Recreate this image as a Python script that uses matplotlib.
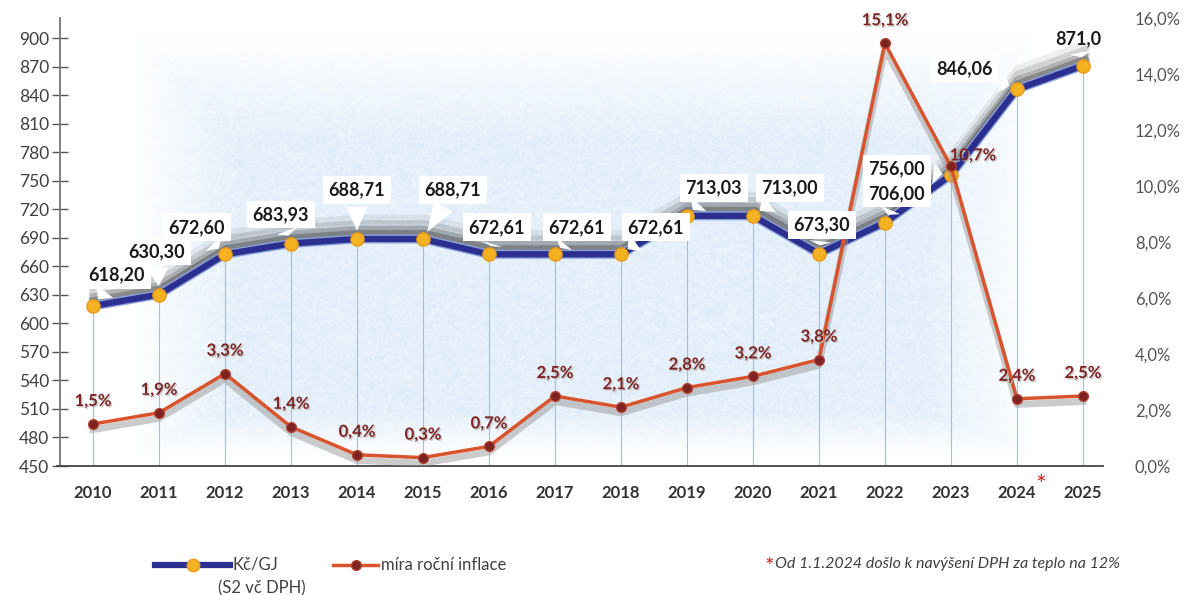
import numpy as np
import matplotlib.pyplot as plt
from matplotlib.lines import Line2D
import matplotlib.patheffects as pe

plt.rcParams["font.family"] = ["Lato", "DejaVu Sans"]

years = ["2010", "2011", "2012", "2013", "2014", "2015", "2016", "2017",
         "2018", "2019", "2020", "2021", "2022", "2023", "2024", "2025"]
price = [618.20, 630.30, 672.60, 683.93, 688.71, 688.71, 672.61, 672.61,
         672.61, 713.03, 713.00, 673.30, 706.00, 756.00, 846.06, 871.0]
price_labels = ["618,20", "630,30", "672,60", "683,93", "688,71", "688,71",
                "672,61", "672,61", "672,61", "713,03", "713,00", "673,30",
                "706,00", "756,00", "846,06", "871,0"]
inflation = [1.5, 1.9, 3.3, 1.4, 0.4, 0.3, 0.7, 2.5,
             2.1, 2.8, 3.2, 3.8, 15.1, 10.7, 2.4, 2.5]
left_ticks = list(range(450, 901, 30))
right_ticks = [0, 2, 4, 6, 8, 10, 12, 14, 16]

BLUE = "#2b2f8f"
YELLOW = "#f4b223"
RED = "#d9532c"
DARK_RED = "#7d2422"
GREY_TEXT = "#404040"

x = np.arange(len(years))

fig = plt.figure(figsize=(11.88, 5.95), dpi=100)
ax = fig.add_axes([0.0505, 0.2168, 0.8838, 0.7529])
ax2 = ax.twinx()
ax2.set_zorder(ax.get_zorder() + 1)
ax2.patch.set_visible(False)

ax.set_xlim(-0.5, 15.41)
ax.set_ylim(450, 921)
ax2.set_ylim(0, 16)

# pale blue speckled backdrop behind the lines
yy, xx = np.mgrid[0:1:200j, 0:1:400j]
edge = np.minimum.reduce([xx / 0.12, (1 - xx) / 0.12, yy / 0.25, (1 - yy) / 0.1])
alpha = np.clip(edge, 0, 1) * 0.35
rng = np.random.default_rng(3)
alpha = alpha * (0.55 + 0.45 * rng.random(alpha.shape))
bg = np.zeros((200, 400, 4))
bg[..., 0] = 0.62
bg[..., 1] = 0.78
bg[..., 2] = 0.93
bg[..., 3] = alpha
ax.imshow(bg, extent=[0.55, 14.3, 460, 905], aspect="auto", zorder=0,
          interpolation="bilinear")

# drop lines from each price point to the axis
for xi, p in zip(x, price):
    ax.plot([xi, xi], [450, p], color="#a9bdd3", lw=0.8, zorder=1)

# soft dark shadow above the price line
for dy, a in [(14, 0.08), (10, 0.14), (6, 0.25), (3, 0.4)]:
    ax.plot(x, price, lw=0, zorder=2,
            path_effects=[pe.Stroke(offset=(1, dy), linewidth=7,
                                    foreground="#2a2a2a", alpha=a)])

ax.plot(x, price, color=BLUE, lw=4.5, zorder=4, solid_capstyle="round",
        path_effects=[pe.Stroke(linewidth=6.5, foreground="#8aa0d8"), pe.Normal()])
ax.plot(x, price, ls="none", marker="o", ms=9.5, mfc=YELLOW, mec="#e89a1a",
        mew=1, zorder=5)

# grey shadow below the inflation line
ax2.plot(x, inflation, lw=0, zorder=2,
         path_effects=[pe.Stroke(offset=(0, -4), linewidth=5,
                                 foreground="#9a9a9a", alpha=0.5)])
ax2.plot(x, inflation, color=RED, lw=2.5, zorder=3)
ax2.plot(x, inflation, ls="none", marker="o", ms=7, mfc=DARK_RED, mec="#b04030",
         mew=1, zorder=3)

# price callouts (offsets in pixels from the point), drawn on top of both lines
price_offsets = [(24, 31), (-2, 43), (-28, 27), (-10, 29), (0, 49), (30, 49),
                 (8, 27), (22, 27), (35, 27), (27, 28), (37, 28), (3, 29),
                 (12, 29), (-54, 6), (-52, 21), (-5, 27)]
for xi, p, lab, off in zip(x, price, price_labels, price_offsets):
    box = None if lab == "871,0" else dict(boxstyle="square,pad=0.3", fc="white", ec="none")
    ax2.annotate(lab, (xi, p), xycoords=ax.transData, xytext=off,
                 textcoords="offset pixels", ha="center", va="center",
                 fontsize=13, fontweight="bold", color="#1a1a1a", zorder=6,
                 bbox=box,
                 arrowprops=dict(arrowstyle="wedge,tail_width=1.2,shrink_factor=0.5",
                                 fc="white", ec="none", shrinkB=6))

# inflation labels
infl_offsets = [(0, 23)] * len(inflation)
infl_offsets[13] = (22, 11)
for xi, v, off in zip(x, inflation, infl_offsets):
    ax2.annotate(f"{v:.1f}%".replace(".", ","), (xi, v), xytext=off,
                 textcoords="offset pixels", ha="center", va="center",
                 fontsize=12, fontweight="bold", color=DARK_RED, zorder=7,
                 path_effects=[pe.withSimplePatchShadow(offset=(1, -1),
                                                        shadow_rgbFace="#bbbbbb",
                                                        alpha=0.8)])

# axes styling
ax.set_yticks(left_ticks)
ax.tick_params(axis="y", direction="inout", length=12, width=1, colors="#555555",
               labelsize=12.5, labelcolor=GREY_TEXT, pad=2)
ax.set_xticks(x)
ax.set_xticklabels(years, fontweight="bold", fontsize=12, color="#333333")
ax.tick_params(axis="x", length=0, pad=14)
for s in ["top", "right"]:
    ax.spines[s].set_visible(False)
ax.spines["left"].set_color("#777777")
ax.spines["left"].set_linewidth(1.3)
ax.spines["bottom"].set_color("#444444")
ax.spines["bottom"].set_linewidth(1.3)
ax.spines["bottom"].set_bounds(-0.55, 15.3)

ax2.set_yticks(right_ticks)
ax2.set_yticklabels([f"{t:.1f}%".replace(".", ",") for t in right_ticks])
ax2.tick_params(axis="y", length=0, labelsize=12, labelcolor="#555555", pad=18)
for s in ax2.spines.values():
    s.set_visible(False)

# red star next to 2024
fig.text(1041 / 1188, 1 - 486 / 595, "*", color="#d02020", fontsize=18,
         ha="center", va="center")

# legend
leg_y = 1 - 565 / 595
fig.add_artist(Line2D([155 / 1188, 230 / 1188], [leg_y, leg_y], color=BLUE, lw=4.5,
                      transform=fig.transFigure))
fig.add_artist(Line2D([193 / 1188], [leg_y], marker="o", ms=9, mfc=YELLOW,
                      mec="#e89a1a", transform=fig.transFigure))
fig.text(232 / 1188, leg_y, "Kč/GJ", fontsize=12, color=GREY_TEXT, va="center")
fig.text(218 / 1188, 1 - 588 / 595, "(S2 vč DPH)", fontsize=12, color=GREY_TEXT,
         va="center")
fig.add_artist(Line2D([333 / 1188, 378 / 1188], [leg_y, leg_y], color=RED, lw=2.5,
                      transform=fig.transFigure))
fig.add_artist(Line2D([356 / 1188], [leg_y], marker="o", ms=7, mfc=DARK_RED,
                      mec="#b04030", transform=fig.transFigure))
fig.text(381 / 1188, leg_y, "míra roční inflace", fontsize=12, color=GREY_TEXT,
         va="center")

# footnote
fig.text(765 / 1188, 1 - 567 / 595, "*", color="#d02020", fontsize=16,
         ha="left", va="center")
fig.text(775 / 1188, 1 - 564 / 595, "Od 1.1.2024 došlo k navýšení DPH za teplo na 12%",
         fontsize=11.5, style="italic", color=GREY_TEXT, va="center")

fig.savefig("out.png", dpi=100)
